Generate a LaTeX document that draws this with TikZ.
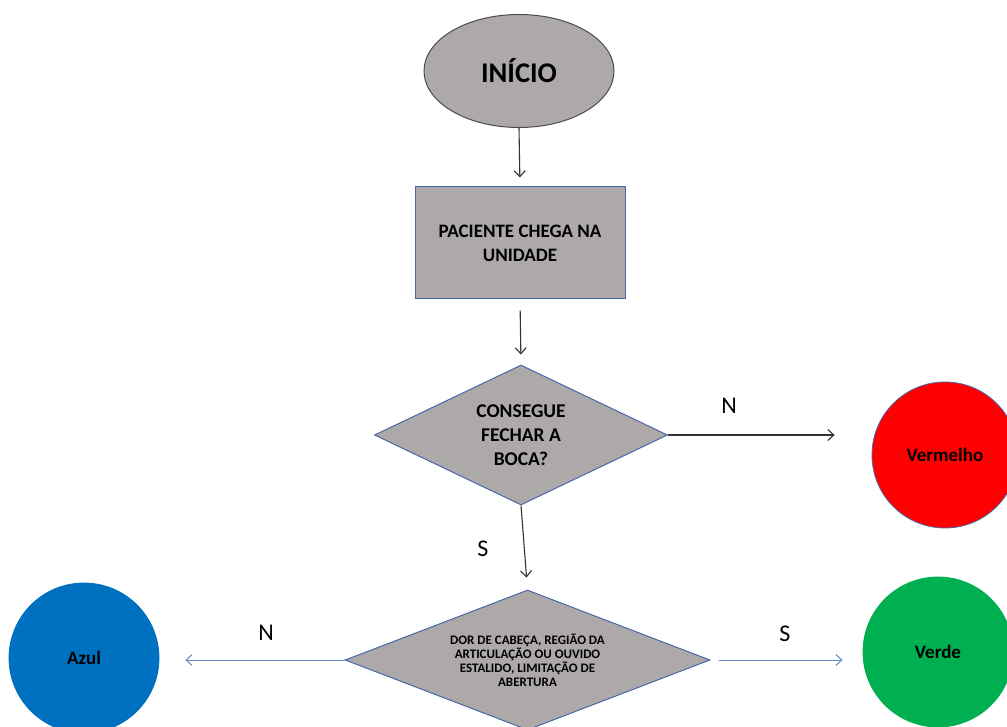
\documentclass[tikz,border=0pt]{standalone}
\usepackage{fontspec}
\setmainfont{Carlito}
\usetikzlibrary{shapes.geometric,arrows.meta}
\definecolor{boxgray}{RGB}{173,169,169}
\definecolor{edgeblue}{RGB}{72,103,168}
\definecolor{linkblue}{RGB}{100,135,205}
\definecolor{myred}{RGB}{255,0,0}
\definecolor{myblue}{RGB}{0,112,192}
\definecolor{mygreen}{RGB}{0,176,80}
\tikzset{
  shp/.style={fill=boxgray, draw=edgeblue, line width=1pt, inner sep=0pt, align=center, font=\bfseries},
  term/.style={circle, minimum size=#1, inner sep=0pt, draw=edgeblue, line width=0.8pt, font=\fontsize{19}{22}\selectfont\bfseries},
  blk/.style={-{Straight Barb[length=6pt,width=11pt]}, line width=1.1pt, black!80},
  blu/.style={-{Straight Barb[length=6pt,width=11pt]}, line width=1pt, linkblue},
  lbl/.style={font=\fontsize{24}{26}\selectfont, inner sep=0pt}
}
\begin{document}
\begin{tikzpicture}[x=1pt,y=-1pt]
\clip (0,0) rectangle (1007,727);
\fill[white] (0,0) rectangle (1007,727);
\node[shp, ellipse, draw=black!70, minimum width=190pt, minimum height=113pt, font=\fontsize{28.5}{32}\selectfont\bfseries] (ini) at (519,71) {INÍCIO};
\node[shp, rectangle, minimum width=210pt, minimum height=112pt, font=\fontsize{19}{24}\selectfont\bfseries] (pac) at (520,243) {PACIENTE CHEGA NA\\UNIDADE};
\node[shp, diamond, aspect=2, minimum width=293pt, minimum height=140pt, font=\fontsize{19.5}{24}\selectfont\bfseries] (d1) at (521,435) {CONSEGUE\\FECHAR A\\BOCA?};
\node[shp, diamond, aspect=2.6, minimum width=365pt, minimum height=140pt, font=\fontsize{13}{14}\selectfont\bfseries] (d2) at (527.5,660) {DOR DE CABEÇA, REGIÃO DA\\ARTICULAÇÃO OU OUVIDO\\ESTALIDO, LIMITAÇÃO DE\\ABERTURA};
\node[term=146pt, fill=myred] (verm) at (945,455) {Vermelho};
\node[term=150pt, fill=myblue, draw=myblue] (azul) at (84,658) {Azul};
\node[term=150pt, fill=mygreen, draw=mygreen] (verde) at (938,652) {Verde};
\draw[blk, shorten >=9pt] (ini.south) -- (pac.north);
\draw[blk, shorten <=11pt, shorten >=10pt] (pac.south) -- (d1.north);
\draw[blk, shorten >=37pt] (d1.east) -- (d1.east -| verm.west);
\draw[blk, shorten >=12pt] (d1.south) -- (d2.north);
\draw[blu, shorten >=26pt] (d2.west) -- (d2.west -| azul.east);
\draw[blu, shorten <=8pt, shorten >=20pt] (d2.east) -- (d2.east -| verde.west);
\node[lbl] (ln1) at (729,406) {N};
\node[lbl] (ls1) at (483,549) {S};
\node[lbl] (ln2) at (266,633) {N};
\node[lbl] (ls2) at (785,634) {S};
\end{tikzpicture}
\end{document}
